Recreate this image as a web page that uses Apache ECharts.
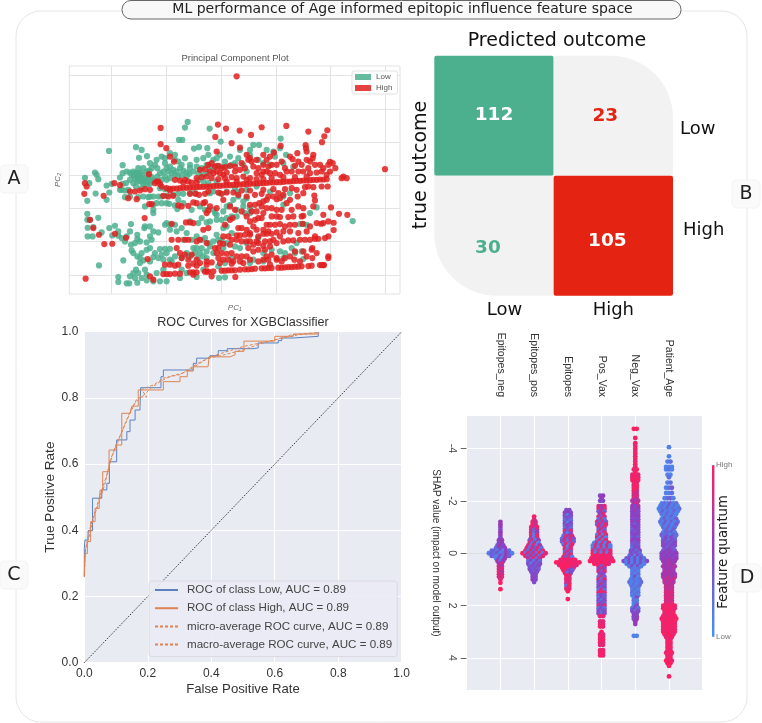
<!DOCTYPE html>
<html><head><meta charset="utf-8">
<style>html,body{margin:0;padding:0;background:#fff}#c{width:762px;height:723px}</style>
<script src="https://cdn.jsdelivr.net/npm/echarts@6/dist/echarts.min.js"></script>
</head><body><div id="c"></div>
<script>
// A: Principal component scatter, values on an unlabelled PC scale
const pcGridX=[184,350,515,680,842,1005];
const pcGridY=[107,207,307,407,505,605,706];
const pcLow=[[413,246],[405,263],[479,266],[387,300],[397,300],[512,305],[177,333],[258,322],[275,330],[267,354],[291,349],[432,326],[447,322],[472,325],[610,315],[627,315],[692,296],[690,325],[670,335],[570,330],[335,350],[345,355],[360,340],[375,345],[405,355],[385,365],[420,375],[490,360],[500,355],[525,365],[555,370],[580,375],[600,345],[625,360],[708,345],[675,350],[218,376],[135,398],[140,405],[105,414],[145,418],[118,430],[210,413],[218,400],[170,437],[185,432],[228,430],[178,458],[137,461],[112,483],[170,480],[210,450],[225,452],
[240,398],[250,395],[258,398],[265,400],[272,398],[245,405],[252,408],[260,408],[268,408],[278,405],[290,395],[298,392],[305,385],[315,375],[322,385],[255,415],[265,418],[275,415],[285,415],[295,412],[305,412],[262,425],[272,425],[282,425],[292,425],[302,425],[280,432],[290,435],[300,432],[312,420],[322,410],[330,400],[340,395],[350,385],[360,380],[370,390],[380,395],[390,385],[400,392],[410,398],[418,402],[395,405],[385,410],[375,405],[365,400],[355,395],[345,410],[335,420],[350,420],[360,415],[410,410],[420,385],[440,380],[455,385],[470,375],[480,380],[490,385],[500,378],[515,380],[530,380],[545,375],[430,395],[445,400],[460,405],[475,400],[215,450],[235,450],[218,432],[240,420],[250,430],[258,440],[275,445],[330,445],[345,448],
[225,472],[240,470],[265,472],[280,470],[295,472],[310,470],[325,470],[335,470],[350,468],[370,465],[385,462],[400,462],[420,460],[435,460],
[112,522],[145,534],[112,540],[120,540],[113,564],[130,562],[155,578],[113,590],[128,590],[178,565],[195,558],[187,587],[205,588],[215,595],[225,605],[243,615],[245,632],[243,553],[285,560],[300,560],[262,585],[262,598],[290,608],[310,575],[325,578],[300,590],[283,565],
[147,677],[220,662],[205,712],[205,727],[230,731],[238,731],[262,729],[240,710],[250,700],[258,690],[270,670],[280,662],[310,652],[330,628],[345,627],[360,627],[325,655],[340,660],[360,660],[365,665],[290,630],[290,705],[290,722],[310,725],[330,725],[350,725],[390,715],[440,712],[507,715],[525,713],
[350,490],[358,492],[375,497],[382,508],[310,495],[310,510],[310,520],[350,550],[360,555],[470,548],[480,545],[445,550],[490,510],[500,525],[520,515],[495,520],[580,485],[580,500],[585,520],[560,530],[520,565],[530,560],[545,580],[530,610],[520,625],[490,640],[460,650],[470,655],[440,625],[430,625],[450,640],[400,600],[380,575],[360,570],[345,555],[425,600],[465,595],[500,585],[555,620],[600,670],[610,660],[640,665],[690,635],[705,640],[735,640],[760,658],[740,610],[750,553],[760,553],[700,495],[800,503],[908,544],[700,470],[720,460],[660,455],[620,440],[590,450],[560,455],[480,460],[490,455],[510,460],[530,455],
[205,575],[230,590],[250,640],[262,650],[275,640],[300,625],[315,640],[335,645],[350,640],[375,650],[395,655],[410,640],[420,650],[435,640],[445,655],[455,625],[470,635],[480,620],[490,605],[505,600],[515,600],[475,610],[455,600],[440,590],[410,580],[395,565],[375,555],[420,545],[455,535],[500,540],[515,540],[530,535],[545,530],[560,510],[600,505],[600,520],[530,500],[540,495],[550,480],[565,470],[590,475],[385,480],[400,490],[450,500],[465,510],[425,510],[300,470],[320,490],[335,490],[285,500],[240,575],[255,610],[270,605],[305,600],[270,655],[300,665],[285,690],[265,700],[255,715],[275,715],[320,700],[340,690],[395,690],[410,700],[460,690],[505,680],[525,670],[545,655],[570,625],[590,610],[625,595],[640,640],[665,630],[700,655],[725,625],[755,635],[770,555],[780,520],[230,395],[265,385],[280,385],[300,370],[320,360],[345,370],[375,360],[395,375],[440,360],[460,355],[475,345],[510,345],[540,350],[565,355],[600,330],[650,330],[640,370],[660,375],[700,370],[730,380],[590,395],[445,420],[460,425],[475,430],[500,425],[555,445]];
const pcHigh=[[560,109],[1005,388],[332,264],[504,254],[528,266],[569,272],[635,262],[709,258],[775,275],[832,271],[823,289],[816,307],[496,291],[545,310],[603,285],[332,313],[349,325],[360,350],[372,365],[570,323],[500,335],[692,318],[767,316],[768,325],[672,338],[660,350],[640,345],[600,355],[605,365],[720,350],[742,340],[770,335],[790,345],[788,355],[780,365],[770,360],[728,358],[745,365],[840,366],[848,370],[835,375],[856,385],[840,395],[830,405],[880,410],[875,415],[890,415],[833,440],[793,467],[795,482],[743,470],[843,503],[867,522],[892,525],[851,549],[851,571],[835,590],[813,552],[820,550],[760,505],[760,528],[758,552],[770,575],[795,590],[805,597],[825,595],[835,650],[835,655],[815,676],[822,676],[787,655],[787,625],[785,630],[760,635],[735,635],[733,660],[705,655],[680,655],[645,630],[640,660],
[105,430],[103,462],[110,440],[161,468],[193,430],[210,436],[120,540],[130,565],[147,585],[195,582],[163,613],[187,612],[228,594],[107,717],[284,535],[293,658],[300,710],[310,720],[298,493],[305,493],[235,475],[260,478],[340,468],[355,470],[240,455],[255,455],[270,452],[285,448],[300,450],[297,403],[320,425],[330,432],[335,440],
[360,447],[370,446],[380,446],[390,445],[400,444],[410,444],[420,443],[430,443],[440,442],[450,441],[460,441],[470,440],[480,440],[490,439],[500,438],[510,438],[520,437],[530,436],[540,436],[550,435],[560,435],[570,434],[580,433],[590,433],[600,432],[610,431],[620,431],[630,430],[640,430],[650,429],[660,428],[670,428],[680,427],[690,427],[700,426],[710,425],[720,425],[730,424],[740,423],[750,423],[760,422],[770,422],[780,421],[790,420],[800,420],[810,419],[820,419],[830,418],
[340,703],[350,703],[360,703],[375,702],[390,702],[420,698],[430,698],[440,698],[465,696],[475,696],[490,695],[515,693],[525,693],[535,692],[545,692],[555,692],[570,690],[585,689],[595,689],[605,688],[615,687],[635,686],[645,686],[655,685],[665,685],[685,684],[695,684],[705,683],[715,682],[725,682],[735,681],[745,681],[755,680],[775,679],[785,678],[810,676],[820,676],
[450,390],[465,388],[475,375],[485,370],[495,380],[505,378],[515,385],[525,382],[540,378],[480,395],[490,400],[500,395],[510,400],[520,405],[530,398],[555,395],[570,390],[585,385],[595,360],[610,380],[625,385],[640,375],[620,400],[635,405],[650,395],[660,400],[675,400],[690,405],[710,395],[725,395],[745,395],[760,395],[780,400],[800,398],[815,395],[470,410],[455,412],[440,415],[485,415],[505,418],[525,415],[545,412],[560,415],[580,410],[600,415],[620,418],[640,418],[665,415],[700,412],[735,412],[770,410],[405,420],[390,422],[375,420],[315,430],[325,425],[400,428],[415,425],[425,428],[440,428],[530,425],[560,425],[590,420],
[350,445],[360,452],[370,468],[420,462],[437,462],[447,465],[465,462],[530,458],[550,458],[575,452],[600,452],[640,450],[670,448],[705,448],[725,445],[765,442],[775,440],[440,490],[465,487],[385,497],[395,500],[415,498],[430,488],[475,512],[470,520],[500,505],[408,548],[420,548],[430,550],[365,552],[460,570],[475,565],
[600,495],[615,495],[628,490],[640,485],[650,480],[680,478],[690,475],[635,500],[650,505],[665,505],[680,510],[695,510],[620,515],[640,520],[625,535],[635,535],[615,540],[600,545],[665,530],[680,530],[690,532],[715,532],[730,530],[755,530],[650,555],[660,555],[675,555],[690,553],[705,560],[720,555],[735,555],[565,565],[575,565],[590,570],[620,570],[640,570],[655,575],[680,578],[700,575],[720,575],[560,587],[570,587],[585,585],[600,585],[640,582],[650,582],[665,582],[520,590],[535,590],[545,600],[560,600],[575,605],[590,605],[600,605],[620,605],[645,605],[660,605],[680,610],[700,605],[715,602],[730,602],[750,600],[765,600],[780,600],[795,597],[510,610],[520,612],[540,615],[595,625],[610,615],[625,610],[640,618],[660,620],[500,640],[515,640],[530,642],[545,640],[560,650],[575,650],[590,650],[610,635],[650,650],[665,645],[680,660],[505,655],[520,660],[550,665],[580,670],[545,672],[625,630],[655,660],
[365,600],[385,600],[405,600],[415,600],[380,625],[390,640],[415,660],[385,675],[440,660],[450,670],[470,675],[485,668],[345,675],[360,675],[375,678],[415,678],[430,672],[440,678],[470,665],[485,710],[556,712],[525,555],[540,540],[548,535],[470,695],[430,705],
[460,490],[480,500],[520,480],[540,500],[555,510],[575,515],[590,530],[605,515],[610,560],[600,580],[625,590],[670,600],[690,590],[745,580],[780,560],[800,550],[790,500],[710,490],[725,510],[745,500],[820,525],[835,545],[800,640],[770,650],[750,665],[720,650],[695,665],[660,675],[625,665],[600,660],[570,665],[535,660],[510,670],[495,625],[505,625],[450,600],[470,610],[440,605],[425,645],[395,655],[405,645],[640,395],[655,380],[680,375],[695,365],[705,385],[735,378],[755,375],[775,385],[795,375],[810,375],[820,385],[555,380],[575,370],[590,345],[620,360],[650,360],[665,375],[475,455],[505,458],[515,462],[565,465],[590,470],[615,465],[635,462],[655,470],[670,470],[685,460],[700,465],[720,480],[760,460],[740,450],[790,442],[815,440]];

// B: confusion matrix
const cmLabels=['Low','High'];
const cmValues=[[112,23],[30,105]];

// C: ROC curves
const rocLow=[[0,.26],[0,.3456],[.002,.3707],[.012,.399],[.026,.497],[.055,.522],[.071,.542],[.079,.607],[.102,.673],[.118,.673],[.134,.698],[.144,.733],[.16,.7635],[.1755,.7735],[.1776,.8308],[.2227,.8308],[.2416,.864],[.249,.8843],[.312,.8843],[.3434,.9045],[.354,.92],[.396,.9275],[.422,.9426],[.4505,.9487],[.5316,.951],[.548,.966],[.611,.973],[.622,.981],[.6585,.986],[.737,.997],[.74,.997]];
const rocHigh=[[0,.26],[.002,.33],[.0097,.366],[.02,.426],[.034,.466],[.047,.4915],[.05,.5217],[.058,.577],[.078,.6425],[.1,.6577],[.118,.7535],[.144,.7535],[.15,.775],[.17,.824],[.228,.824],[.249,.849],[.3015,.864],[.3245,.881],[.3434,.894],[.39,.896],[.393,.924],[.459,.93],[.475,.9407],[.503,.9715],[.58,.9715],[.6,.986],[.6585,.993],[.737,.997]];
const rocMicro=[[0,.27],[.004,.34],[.012,.385],[.025,.43],[.04,.475],[.055,.52],[.07,.565],[.085,.62],[.105,.665],[.125,.715],[.145,.76],[.165,.795],[.19,.81],[.21,.83],[.24,.85],[.27,.865],[.31,.875],[.35,.9],[.4,.925],[.45,.94],[.5,.955],[.55,.965],[.6,.975],[.65,.99],[.7,.995],[.737,.997]];
const rocMacro=[[0,.26],[.004,.345],[.015,.38],[.03,.44],[.05,.495],[.065,.54],[.08,.6],[.1,.66],[.12,.7],[.14,.745],[.16,.785],[.18,.803],[.197,.803],[.18,.825],[.22,.84],[.25,.86],[.3,.87],[.34,.89],[.39,.92],[.44,.93],[.5,.945],[.56,.965],[.62,.98],[.67,.99],[.737,.997]];
const rocDiagonal=[[0,0],[1,1]];

// D: SHAP swarm. Each row: SHAP value, and one digit per dot = feature quantum 0 (low) .. 9 (high)
const shapFeatures=['Epitopes_neg','Epitopes_pos','Epitopes','Pos_Vax','Neg_Vax','Patient_Age'];
const negShap=[-1.2,-1.1,-1,-.9,-.8,-.7,-.6,-.5,-.4,-.3,-.2,-.1,0,.1,.2,.3,.4,.5,.6,.7,.8,.9,1,1.13,1.37];
const negQuant=['5','5','5','4','5','5','4','55','45','454','2545','2314152','132412531','3214253','1415','625','57','76','78','86','87','78','8','9','9'];
const posShap=[-1.4,-1.3,-1.2,-1.1,-1,-.9,-.8,-.7,-.6,-.5,-.4,-.3,-.2,-.1,0,.1,.2,.3,.4,.5,.6,.7,.8,.9,1,1.1];
const posQuant=['9','8','87','97','879','837','725','918','718','3815','8271','82816','827382','8283928','928372918','8383828','73827','25152','41434','3434','4343','434','44','44','54','4'];
const epiShap=[-1.65,-1.55,-1.45,-1.35,-1.25,-1.15,-1.05,-.95,-.85,-.75,-.65,-.55,-.45,-.35,-.25,-.15,-.05,.05,.15,.25,.35,.45,.55,.65,.75,.85,.95,1.05,1.15,1.25,1.35,1.45,1.75];
const epiQuant=['44','454','414','343','232','414','353','242','838','414','2848','28384','38283','2828','818','828','383','838','8381','898989','998989889','8999898','98987','9843','824','98','88','88','78','29','88','9','9'];
const pvShap=[-2.2,-2.1,-2,-1.8,-1.7,-1.6,-1.5,-1.4,-1.3,-1.2,-1.1,-1,-.9,-.8,-.7,-.6,-.5,-.4,-.3,-.2,-.1,0,.1,.2,.3,.4,.5,.6,.7,.8,.9,1,1.1,1.2,1.3,1.4,1.5,1.6,1.7,1.8,1.9,2,2.1,2.2,2.3,2.4,2.6,2.7,2.8,3,3.1,3.2,3.3,3.4,3.5,3.7,3.8,3.9];
const pvQuant=['45','5','44','858','848','383','48','838','282','8383','3838','838','383','828','1818','8181','1818','181818','1828181','1818181','8282828','9181818','9989898','98989898','989898989','989898','838','484','838','44','283','828','434','383','434','282','898','343','243','424','343','848','242','434','424','88','88','88','98','9','88','98','89','98','88','98','89','98'];
const nvShap=[-4.75,-4.4,-4.2,-4.1,-4,-3.9,-3.8,-3.7,-3.6,-3.5,-3.4,-3.3,-3.2,-3.1,-3,-2.9,-2.8,-2.7,-2.6,-2.5,-2.4,-2.3,-2.2,-2.1,-2,-1.9,-1.8,-1.7,-1.6,-1.5,-1.4,-1.3,-1.2,-1.1,-1,-.9,-.8,-.7,-.6,-.5,-.4,-.3,-.2,-.1,0,.1,.2,.3,.4,.5,.6,.7,.8,.9,1,1.1,1.2,1.3,1.4,1.5,1.6,1.7,1.8,1.9,2,2.1,2.2,2.3,2.4,2.5,2.6,2.7,3.15];
const nvQuant=['99','9','9','8','9','8','9','8','9','8','9','8','89','9','898','898','989','98','89','89','98','87','78','87','656','67','546','545','464','454','545','444','545','434','454','344','434','454','343','545','434','343','244','3424','4342','24142','3414142','414141414','1414141','14141','212','121','212','141','1212','21212','1212','212','121','212','121','14','21','12','14','242','424','44','54','45','5','5','11'];
const ageShap=[-4.05,-3.7,-3.5,-3.3,-3.2,-3,-2.9,-2.7,-2.5,-2.3,-2.1,-1.9,-1.8,-1.7,-1.6,-1.5,-1.4,-1.3,-1.2,-1.1,-1,-.9,-.8,-.7,-.6,-.5,-.4,-.3,-.2,-.1,0,.1,.2,.3,.4,.5,.6,.7,.8,.9,1,1.1,1.2,1.3,1.4,1.5,1.6,1.7,1.8,1.9,2,2.1,2.2,2.3,2.4,2.5,2.6,2.7,2.8,2.9,3,3.1,3.2,3.3,3.4,3.5,3.6,3.7,3.8,3.9,4,4.1,4.2,4.3,4.7];
const ageQuant=['1','1','12','111','121','11','2','12','123','112','1231','121312','1213121','12131212','1312131','213121','12131','131213','2131312','131213','21312','2313','13231','323132','24342','34243','43434','44344','4343','34543','454545','545454','454545','55655','5565','65656','5656','6565','56565','65756','6767','7576','676','767','767','878','787','878','787','878','98989','89898','9898','8989','98989','898989','98989','89898','98989','89898','98989','9898','899','98','89','98','89','98','899','98','89','998','99','9','9'];

const green='#4caf8d', red='#e52313', steelBlue='#5b80bd', orange='#dd8452', panelBg='#e9ebf3';
const mainFont='"DejaVu Sans",sans-serif', arial='"Liberation Sans",Arial,sans-serif';

// Swarm layout: dots in a row spread outward from the feature's centre line
const SWARM_STEP=0.086;
function swarmRows(col,shap,quant){
  const out=[];
  shap.forEach((v,i)=>{
    const q=quant[i], n=q.length;
    for(let k=0;k<n;k++){
      const off=(k-(n-1)/2)*SWARM_STEP;
      out.push([col+off,v,Number(q[k])]);
    }
  });
  return out;
}
const swarmData=[].concat(
  swarmRows(1,negShap,negQuant),swarmRows(2,posShap,posQuant),swarmRows(3,epiShap,epiQuant),
  swarmRows(4,pvShap,pvQuant),swarmRows(5,nvShap,nvQuant),swarmRows(6,ageShap,ageQuant));

const cmData=[];
cmValues.forEach((row,r)=>row.forEach((v,c)=>cmData.push([c,r,v])));
const cmFill=[green,'#f2f2f2','#f2f2f2',red];
const cmText=['#fff',red,green,'#fff'];
const cmCorner=[[2,2,2,2],[0,62,0,0],[0,0,0,62],[2,2,2,2]];
const cmNudge=[[0,-1],[-8,0],[-6,12],[-6,5]];

const chart=echarts.init(document.getElementById('c'),null,{renderer:'canvas'});
const hiddenAxis={axisLine:{show:false},axisTick:{show:false},axisLabel:{show:false},splitLine:{show:false}};
const tag=(ch,cx,cy)=>[
 {type:'rect',z:5,shape:{x:cx-14,y:cy-14,width:28,height:28,r:5},style:{fill:'#fafafa',stroke:'#f3f3f3'}},
 {type:'text',z:6,x:cx,y:cy,style:{text:ch,font:'19px '+mainFont,fill:'#222',textAlign:'center',textVerticalAlign:'middle'}}];
const gText=(text,x,y,font,fill,rot)=>({type:'text',z:6,x,y,rotation:rot||0,style:{text,font,fill:fill||'#222',textAlign:'center',textVerticalAlign:'middle'}});

chart.setOption({
 animation:false,
 backgroundColor:'#fff',
 title:[
  {text:'Principal Component Plot',left:235,top:53,padding:0,textAlign:'center',textStyle:{fontFamily:arial,fontSize:9.5,fontWeight:'normal',color:'#555'}},
  {text:'ROC Curves for XGBClassifier',left:243,top:316,padding:0,textAlign:'center',textStyle:{fontFamily:arial,fontSize:12.6,fontWeight:'normal',color:'#333'}}
 ],
 graphic:[
  {type:'rect',z:-10,shape:{x:16,y:11,width:731,height:711,r:25},style:{fill:'#fff',stroke:'#e6e6e6',lineWidth:1}},
  {type:'rect',z:5,shape:{x:122,y:.5,width:559,height:18.5,r:9},style:{fill:'#f8f8f8',stroke:'#666',lineWidth:1}},
  gText('ML performance of Age informed epitopic influence feature space',402.5,9.5,'14px '+mainFont,'#222'),
  ...tag('A',14,179),...tag('B',746,194),...tag('C',14,575),...tag('D',747,578),
  gText('Predicted outcome',557,41,'19px '+mainFont,'#111'),
  gText('true outcome',421,165,'19px '+mainFont,'#111',Math.PI/2),
  gText('Feature quantum',724,552,'13.2px '+mainFont,'#222',Math.PI/2),
  {type:'text',z:6,x:716,y:465,style:{text:'High',font:'8px '+arial,fill:'#777',textVerticalAlign:'middle'}},
  {type:'text',z:6,x:716,y:637,style:{text:'Low',font:'8px '+arial,fill:'#777',textVerticalAlign:'middle'}}
 ],
 legend:[
  {left:352,top:71,orient:'vertical',data:[{name:'Low',icon:'rect'},{name:'High',icon:'rect'}],itemWidth:16,itemHeight:6,itemGap:3,padding:[2,5,2,3],backgroundColor:'#fff',borderColor:'#e2e2e2',borderWidth:1,borderRadius:2,textStyle:{fontFamily:arial,fontSize:8,color:'#555'},selectedMode:false},
  {left:149,top:581,orient:'vertical',data:['ROC of class Low, AUC = 0.89','ROC of class High, AUC = 0.89','micro-average ROC curve, AUC = 0.89','macro-average ROC curve, AUC = 0.89'],itemWidth:23,itemHeight:8,itemGap:6.2,padding:[3,5,6,5],itemStyle:{opacity:0},backgroundColor:'rgba(234,235,243,0.85)',borderColor:'#d9dae2',borderWidth:1,borderRadius:3,textStyle:{fontFamily:arial,fontSize:11.6,color:'#444',padding:[0,0,0,4]},selectedMode:false}
 ],
 visualMap:[{type:'continuous',seriesIndex:10,dimension:2,min:0,max:9,left:712,top:465,itemWidth:2.6,itemHeight:172,text:null,showLabel:false,calculable:false,realtime:false,padding:0,inRange:{color:['#4095f3','#8a3fc4','#ff1f60']}}],
 grid:[
  {left:69.3,top:66,width:330.7,height:228,show:true,backgroundColor:'#fff',borderColor:'#e3e3e3',borderWidth:1},
  {left:434.3,top:55.7,width:238.7,height:240,show:false},
  {left:84.3,top:331.7,width:317.4,height:331,show:true,backgroundColor:panelBg,borderWidth:0},
  {left:466.7,top:416,width:236,height:274,show:true,backgroundColor:panelBg,borderWidth:0}
 ],
 xAxis:[
  {gridIndex:0,type:'value',min:58,max:1050,...hiddenAxis,name:'PC₁',nameLocation:'middle',nameGap:10,nameTextStyle:{fontFamily:arial,fontSize:8,fontStyle:'italic',color:'#666'}},
  {gridIndex:1,type:'category',data:cmLabels,axisLine:{show:false},axisTick:{show:false},splitLine:{show:false},
   axisLabel:{margin:6,formatter:v=>'{'+v+'|'+v+'}',rich:{Low:{fontFamily:mainFont,fontSize:18,color:'#111',padding:[0,0,0,21]},High:{fontFamily:mainFont,fontSize:18,color:'#111'}}}},
  {gridIndex:2,type:'value',min:0,max:1,interval:.2,axisLine:{show:false},axisTick:{show:false},splitLine:{lineStyle:{color:'#fff',width:1}},
   axisLabel:{margin:5,color:'#333',fontFamily:arial,fontSize:12,formatter:v=>v.toFixed(1)},name:'False Positive Rate',nameLocation:'middle',nameGap:20,nameTextStyle:{fontFamily:arial,fontSize:13.2,color:'#333'}},
  {gridIndex:3,type:'value',position:'top',min:0,max:7,interval:1,axisLine:{show:false},axisTick:{show:false},splitLine:{lineStyle:{color:'#fff',width:1}},
   axisLabel:{rotate:-90,margin:19,color:'#333',fontFamily:arial,fontSize:10.5,formatter:v=>shapFeatures[v-1]||''}}
 ],
 yAxis:[
  {gridIndex:0,type:'value',inverse:true,min:78,max:763,...hiddenAxis,name:'PC₂',nameLocation:'middle',nameGap:8,nameRotate:90,nameTextStyle:{fontFamily:arial,fontSize:8,fontStyle:'italic',color:'#666'}},
  {gridIndex:1,type:'category',inverse:true,position:'right',data:cmLabels,axisLine:{show:false},axisTick:{show:false},splitLine:{show:false},
   axisLabel:{margin:7,align:'left',formatter:v=>'{'+v+'|'+v+'}',rich:{Low:{fontFamily:mainFont,fontSize:18,color:'#111',padding:[27,0,0,0]},High:{fontFamily:mainFont,fontSize:18,color:'#111',padding:[0,0,11,3]}}}},
  {gridIndex:2,type:'value',min:0,max:1,interval:.2,axisLine:{show:false},axisTick:{show:false},splitLine:{lineStyle:{color:'#fff',width:1}},
   axisLabel:{margin:6,color:'#333',fontFamily:arial,fontSize:12,formatter:v=>v.toFixed(1)},name:'True Positive Rate',nameLocation:'middle',nameGap:24,nameTextStyle:{fontFamily:arial,fontSize:13.6,color:'#333'}},
  {gridIndex:3,type:'value',inverse:true,min:-5.24,max:5.22,axisLine:{show:false},splitLine:{show:false},
   axisTick:{show:true,length:6,lineStyle:{color:'#666'},customValues:[-4,-2,0,2,4]},
   axisLabel:{rotate:-90,margin:9,color:'#444',fontFamily:arial,fontSize:10.5,customValues:[-4,-2,0,2,4]},
   name:'SHAP value (impact on model output)',nameLocation:'middle',nameGap:26,nameRotate:-90,nameTextStyle:{fontFamily:arial,fontSize:10,color:'#333'}}
 ],
 series:[
  {name:'Low',type:'scatter',xAxisIndex:0,yAxisIndex:0,data:pcLow,symbolSize:6.2,z:3,itemStyle:{color:green,opacity:.85}},
  {name:'High',type:'scatter',xAxisIndex:0,yAxisIndex:0,data:pcHigh,symbolSize:6.2,z:4,itemStyle:{color:'#e02020',opacity:.85}},
  {name:'pcGrid',type:'line',xAxisIndex:0,yAxisIndex:0,data:[],z:1,markLine:{z:1,silent:true,symbol:'none',label:{show:false},lineStyle:{color:'#e3e3e3',width:1,type:'solid'},
   data:pcGridX.map(v=>({xAxis:v})).concat(pcGridY.map(v=>({yAxis:v})))}},
  {name:'Confusion',type:'custom',xAxisIndex:1,yAxisIndex:1,data:cmData,encode:{x:0,y:1},z:3,
   renderItem(params,api){
    const p=api.coord([api.value(0),api.value(1)]), s=api.size([1,1]), i=params.dataIndex;
    return {type:'group',children:[
     {type:'rect',shape:{x:p[0]-s[0]/2,y:p[1]-s[1]/2,width:s[0],height:s[1],r:cmCorner[i]},style:{fill:cmFill[i]}},
     {type:'text',z2:5,x:p[0]+cmNudge[i][0],y:p[1]+cmNudge[i][1],style:{text:String(api.value(2)),fill:cmText[i],font:'bold 18.5px '+mainFont,textAlign:'center',textVerticalAlign:'middle'}}
    ]};
   }},
  {name:'chance',type:'line',xAxisIndex:2,yAxisIndex:2,data:rocDiagonal,symbol:'none',z:3,lineStyle:{color:'#333',width:1,type:[1.5,1.5]}},
  {name:'ROC of class Low, AUC = 0.89',type:'line',xAxisIndex:2,yAxisIndex:2,data:rocLow,step:'end',symbol:'none',z:4,lineStyle:{color:steelBlue,width:1},itemStyle:{color:steelBlue}},
  {name:'ROC of class High, AUC = 0.89',type:'line',xAxisIndex:2,yAxisIndex:2,data:rocHigh,step:'end',symbol:'none',z:5,lineStyle:{color:orange,width:1},itemStyle:{color:orange}},
  {name:'micro-average ROC curve, AUC = 0.89',type:'line',xAxisIndex:2,yAxisIndex:2,data:rocMicro,symbol:'none',z:6,lineStyle:{color:orange,width:1,type:[3,2]},itemStyle:{color:orange}},
  {name:'macro-average ROC curve, AUC = 0.89',type:'line',xAxisIndex:2,yAxisIndex:2,data:rocMacro,symbol:'none',z:6,lineStyle:{color:orange,width:1,type:[3,2]},itemStyle:{color:orange}},
  {name:'shapGrid',type:'line',xAxisIndex:3,yAxisIndex:3,data:[],z:1,markLine:{z:1,silent:true,symbol:'none',label:{show:false},
   data:[-4,-2,2,4].map(v=>({yAxis:v,lineStyle:{color:'#fff',width:1,type:'solid'}})).concat([{yAxis:0,lineStyle:{color:'#e0dfdf',width:1,type:'solid'}}])}},
  {name:'SHAP',type:'scatter',xAxisIndex:3,yAxisIndex:3,data:swarmData,symbolSize:4.8,z:4,itemStyle:{opacity:1}}
 ]
});
</script></body></html>
